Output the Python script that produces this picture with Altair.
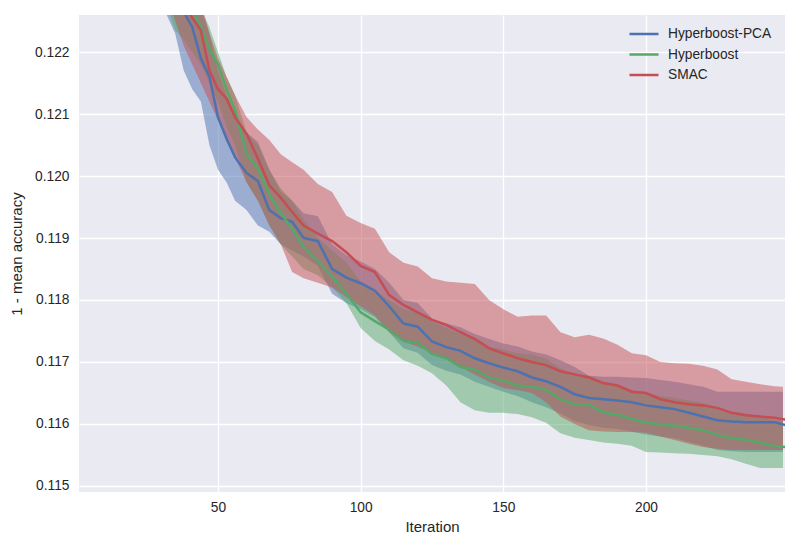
import altair as alt
import pandas as pd

ITER = [1, 10, 20, 30, 35, 38, 41, 44, 47, 50, 53, 56, 60, 64, 68, 72, 76, 80, 85, 90,
        95, 100, 105, 110, 115, 120, 125, 130, 135, 140, 145, 150, 155, 160, 165, 170,
        175, 180, 185, 190, 195, 200, 205, 210, 215, 220, 225, 230, 235, 240, 245, 249]
BAND_ITER = ITER[:-1] + [248]

SERIES = ["Hyperboost-PCA", "Hyperboost", "SMAC"]
COLORS = ["#4C72B0", "#55A868", "#C44E52"]

PCA_MEAN = [0.1300, 0.1275, 0.1255, 0.1238, 0.1230, 0.12265, 0.12240, 0.12190, 0.12160, 0.12095,
            0.12060, 0.12030, 0.12005, 0.11992, 0.11945, 0.11932, 0.11926, 0.11900, 0.11895, 0.11850,
            0.11836, 0.11827, 0.11815, 0.11790, 0.11762, 0.11757, 0.11733, 0.11724, 0.11718, 0.11706,
            0.11698, 0.11691, 0.11685, 0.11675, 0.11669, 0.11660, 0.11648, 0.11642, 0.11640, 0.11638,
            0.11635, 0.11630, 0.11627, 0.11624, 0.11618, 0.11612, 0.11606, 0.11604, 0.11603, 0.11603,
            0.11603, 0.11598]
PCA_UP = [0.1320, 0.1290, 0.1268, 0.1248, 0.1240, 0.1236, 0.1232, 0.1227, 0.1223, 0.1217,
          0.1213, 0.1210, 0.1207, 0.12055, 0.1201, 0.11975, 0.1196, 0.1194, 0.11935, 0.1189,
          0.11872, 0.11862, 0.1185, 0.11828, 0.1180, 0.11795, 0.1177, 0.11762, 0.11756, 0.11745,
          0.11737, 0.1173, 0.11725, 0.11717, 0.11712, 0.11703, 0.11692, 0.11678, 0.11676, 0.11676,
          0.11675, 0.11674, 0.11671, 0.11668, 0.11664, 0.1166, 0.11652, 0.11652, 0.11652, 0.11652,
          0.11652, 0.11652]
PCA_LO = [0.1280, 0.1260, 0.1242, 0.1228, 0.1223, 0.1217, 0.1214, 0.1212, 0.1205, 0.1201,
          0.1199, 0.1196, 0.11945, 0.1192, 0.1191, 0.1189, 0.1188, 0.1187, 0.11855, 0.1181,
          0.11795, 0.11785, 0.11772, 0.11748, 0.11722, 0.11715, 0.11695, 0.11686, 0.1168, 0.11668,
          0.1166, 0.11652, 0.11645, 0.11635, 0.11627, 0.11617, 0.11605, 0.11598, 0.11594, 0.11592,
          0.11588, 0.11583, 0.1158, 0.11577, 0.11571, 0.11565, 0.11558, 0.11556, 0.11555, 0.11555,
          0.11555, 0.11555]

HB_MEAN = [0.1310, 0.1280, 0.1260, 0.1242, 0.1235, 0.1230, 0.12270, 0.12240, 0.12205, 0.12180,
           0.12140, 0.12106, 0.12035, 0.12012, 0.11970, 0.11940, 0.11915, 0.11885, 0.11862, 0.11838,
           0.11810, 0.11780, 0.11766, 0.11752, 0.11734, 0.11731, 0.11713, 0.11706, 0.11692, 0.11688,
           0.11675, 0.11670, 0.11662, 0.11660, 0.11655, 0.11640, 0.11632, 0.11631, 0.11619, 0.11615,
           0.11608, 0.11602, 0.11599, 0.11597, 0.11594, 0.11590, 0.11582, 0.11577, 0.11574, 0.11570,
           0.11564, 0.11563]
HB_UP = [0.1330, 0.1297, 0.1272, 0.1252, 0.1245, 0.1238, 0.1232, 0.1227, 0.1224, 0.1220,
         0.1216, 0.1213, 0.1207, 0.1205, 0.1201, 0.1198, 0.1196, 0.1193, 0.1190, 0.11880,
         0.1186, 0.1183, 0.11815, 0.1180, 0.11785, 0.1178, 0.11765, 0.11755, 0.11745, 0.1174,
         0.11725, 0.1172, 0.11714, 0.11712, 0.11705, 0.1169, 0.1168, 0.11678, 0.11668, 0.11662,
         0.11655, 0.1165, 0.11645, 0.11642, 0.11638, 0.11634, 0.11626, 0.1162, 0.11616, 0.11612,
         0.11606, 0.11605]
HB_LO = [0.1290, 0.1265, 0.1248, 0.1230, 0.12235, 0.1222, 0.1220, 0.1218, 0.1215, 0.1212,
         0.1208, 0.1205, 0.1199, 0.1196, 0.1192, 0.1189, 0.1187, 0.1185, 0.1184, 0.1182,
         0.11795, 0.11755, 0.11734, 0.1172, 0.11703, 0.11694, 0.11682, 0.11662, 0.11635, 0.11622,
         0.11618, 0.11618, 0.11616, 0.11611, 0.11602, 0.11585, 0.11578, 0.11574, 0.1157, 0.11568,
         0.11565, 0.11555, 0.11554, 0.11553, 0.11552, 0.1155, 0.11548, 0.11543, 0.11536, 0.11529,
         0.11529, 0.11529]

SMAC_MEAN = [0.1305, 0.1278, 0.1258, 0.1240, 0.1233, 0.12280, 0.12255, 0.12235, 0.12170, 0.12140,
             0.12125, 0.12095, 0.12068, 0.12028, 0.11985, 0.11965, 0.11942, 0.11920, 0.11907, 0.11895,
             0.11877, 0.11855, 0.11845, 0.11808, 0.11792, 0.11780, 0.11768, 0.11760, 0.11748, 0.11737,
             0.11722, 0.11714, 0.11706, 0.11700, 0.11695, 0.11685, 0.11680, 0.11675, 0.11666, 0.11662,
             0.11652, 0.11650, 0.11640, 0.11635, 0.11632, 0.11630, 0.11626, 0.11618, 0.11614, 0.11612,
             0.11610, 0.11607]
SMAC_UP = [0.1330, 0.1295, 0.1270, 0.1250, 0.1242, 0.1237, 0.1232, 0.1228, 0.1223, 0.1219,
           0.1216, 0.1213, 0.12095, 0.12075, 0.12058, 0.12035, 0.12022, 0.1201, 0.11987, 0.11974,
           0.11936, 0.11924, 0.11915, 0.11877, 0.1186, 0.11854, 0.11835, 0.1183, 0.11828, 0.11826,
           0.1180, 0.11785, 0.11773, 0.11775, 0.11775, 0.11748, 0.1174, 0.11744, 0.11738, 0.11728,
           0.11714, 0.11711, 0.1170, 0.11698, 0.11697, 0.11694, 0.11688, 0.11672, 0.11668, 0.11664,
           0.11661, 0.1166]
SMAC_LO = [0.1285, 0.1262, 0.1246, 0.1232, 0.1225, 0.1221, 0.1218, 0.1215, 0.1212, 0.1209,
           0.1206, 0.1203, 0.1199, 0.1196, 0.1192, 0.1189, 0.11845, 0.11835, 0.11828, 0.1182,
           0.11805, 0.1179, 0.11775, 0.11748, 0.11733, 0.11725, 0.11715, 0.11705, 0.11692, 0.1168,
           0.11668, 0.11658, 0.11655, 0.1165, 0.11635, 0.11612, 0.1160, 0.1159, 0.11588, 0.11587,
           0.11587, 0.11586, 0.1158, 0.11574, 0.11568, 0.11563, 0.1156, 0.11558, 0.11558, 0.11558,
           0.11558, 0.11558]

X_TICKS = [50, 100, 150, 200]
Y_TICKS = [0.115, 0.116, 0.117, 0.118, 0.119, 0.120, 0.121, 0.122]

means = [PCA_MEAN, HB_MEAN, SMAC_MEAN]
ups = [PCA_UP, HB_UP, SMAC_UP]
los = [PCA_LO, HB_LO, SMAC_LO]

line_rows, band_rows = [], []
for k, name in enumerate(SERIES):
    for i, it in enumerate(ITER):
        line_rows.append({"Iteration": it, "value": means[k][i], "Method": name, "order": k})
    for i, it in enumerate(BAND_ITER):
        band_rows.append({"Iteration": it, "lo": los[k][i], "hi": ups[k][i], "Method": name, "order": k})
line_df = pd.DataFrame(line_rows)
band_df = pd.DataFrame(band_rows)

FONT = "Liberation Sans"
TXT = "#262626"

x_scale = alt.Scale(domain=[1.3, 248.7], nice=False, zero=False)
y_scale = alt.Scale(domain=[0.114903, 0.122597], nice=False, zero=False)
color_scale = alt.Scale(domain=SERIES, range=COLORS)

x_axis = alt.Axis(values=X_TICKS, title="Iteration", format="d", grid=True, gridColor="white",
                  gridWidth=1.3, domain=False, ticks=False, labelPadding=8, labelFontSize=13.75,
                  titleFontSize=15, labelColor=TXT, titleColor=TXT, titleFontWeight="normal",
                  labelFont=FONT, titleFont=FONT, titlePadding=6)
y_axis = alt.Axis(values=Y_TICKS, title="1 - mean accuracy", format=".3f", grid=True,
                  gridColor="white", gridWidth=1.3, domain=False, ticks=False, labelPadding=10,
                  labelFontSize=13.75, titleFontSize=15, labelColor=TXT, titleColor=TXT,
                  titleFontWeight="normal", labelFont=FONT, titleFont=FONT, titlePadding=10)

legend = alt.Legend(title=None, orient="none", legendX=549, legendY=9,
                    symbolType="stroke", symbolSize=841, symbolStrokeWidth=2.4,
                    symbolOpacity=1, labelFontSize=13.75, labelFont=FONT, labelColor=TXT,
                    labelOffset=8, rowPadding=0.5, clipHeight=20, padding=0)

bands = alt.Chart(band_df).mark_area(opacity=0.5, clip=True).encode(
    x=alt.X("Iteration:Q", scale=x_scale, axis=x_axis),
    y=alt.Y("lo:Q", scale=y_scale, axis=y_axis),
    y2="hi:Q",
    color=alt.Color("Method:N", scale=color_scale, sort=SERIES, legend=legend),
    detail="Method:N",
    order="order:Q",
)

lines = alt.Chart(line_df).mark_line(strokeWidth=2.5, clip=True).encode(
    x=alt.X("Iteration:Q", scale=x_scale),
    y=alt.Y("value:Q", scale=y_scale),
    color=alt.Color("Method:N", scale=color_scale, sort=SERIES, legend=legend),
    detail="Method:N",
)

chart = alt.layer(bands, lines).properties(
    width=706, height=477,
    autosize=alt.AutoSizeParams(type="none"),
    padding={"left": 71, "top": 7, "right": 7, "bottom": 50},
    background="white",
).configure_view(fill="#EAEAF2", stroke=None)

chart.save("out.html", embed_options={"renderer": "svg", "actions": False})
